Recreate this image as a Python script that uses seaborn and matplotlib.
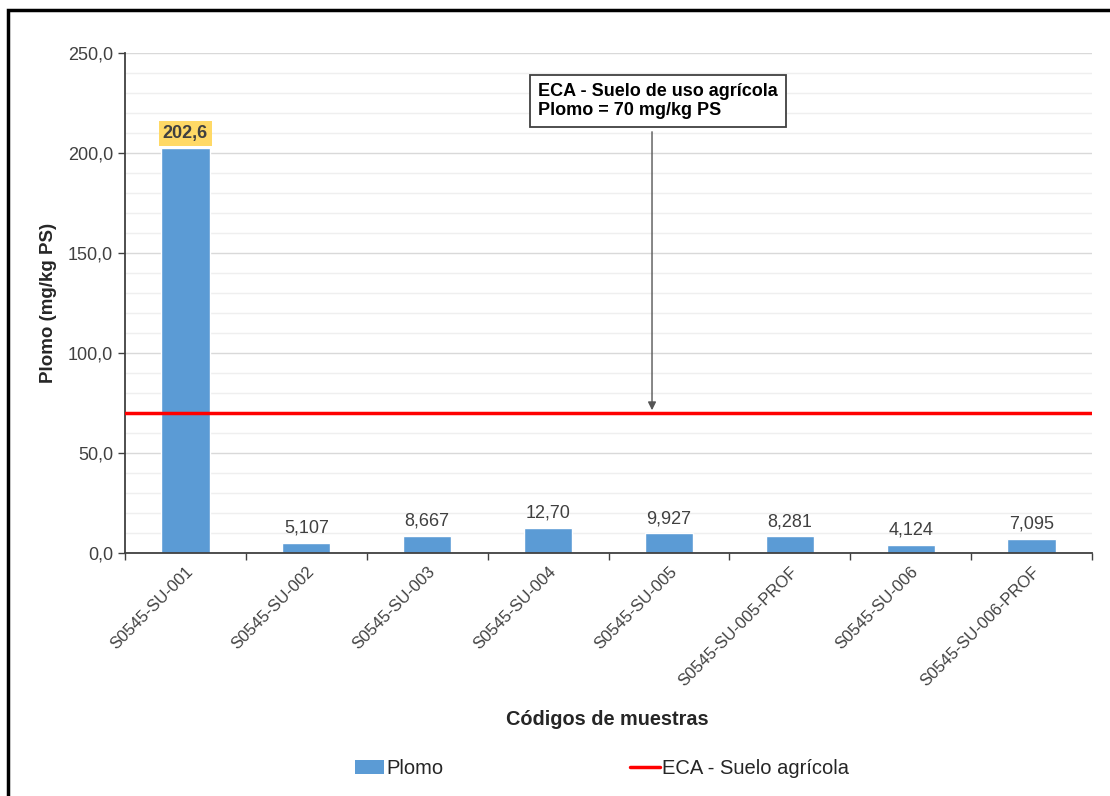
import numpy as np
import pandas as pd
import seaborn as sns
import matplotlib.pyplot as plt
from matplotlib.patches import Rectangle
from matplotlib.lines import Line2D
from matplotlib.patches import Patch
from matplotlib.ticker import MultipleLocator, FixedLocator

# DATA
muestras = ["S0545-SU-001", "S0545-SU-002", "S0545-SU-003", "S0545-SU-004",
            "S0545-SU-005", "S0545-SU-005-PROF", "S0545-SU-006", "S0545-SU-006-PROF"]
plomo = [202.6, 5.107, 8.667, 12.70, 9.927, 8.281, 4.124, 7.095]
etiquetas = ["202,6", "5,107", "8,667", "12,70", "9,927", "8,281", "4,124", "7,095"]
eca_limite = 70
y_ticks = [0, 50, 100, 150, 200, 250]
y_tick_labels = ["0,0", "50,0", "100,0", "150,0", "200,0", "250,0"]

df = pd.DataFrame({"muestra": muestras, "plomo": plomo})

sns.set_style("white")
plt.rcParams["font.family"] = ["Liberation Sans", "DejaVu Sans"]

fig = plt.figure(figsize=(11.1, 7.96), dpi=100)
ax = fig.add_axes([0.1126, 0.3053, 0.8712, 0.6281])

sns.barplot(data=df, x="muestra", y="plomo", color="#5B9BD5", width=0.4,
            saturation=1, ax=ax, zorder=3)

# grid
ax.set_ylim(0, 250)
ax.set_xlim(-0.5, len(muestras) - 0.5)
ax.yaxis.set_major_locator(FixedLocator(y_ticks))
ax.yaxis.set_minor_locator(MultipleLocator(10))
ax.set_yticklabels(y_tick_labels)
ax.grid(axis="y", which="major", color="#D9D9D9", lw=1, zorder=0)
ax.grid(axis="y", which="minor", color="#EFEFEF", lw=1, zorder=0)
ax.tick_params(axis="y", which="minor", length=0)
ax.tick_params(axis="y", which="major", length=5, width=1, color="#404040",
               labelsize=13, labelcolor="#404040", direction="out", left=True)

# x ticks: marks at boundaries, labels under bars
ax.xaxis.set_minor_locator(FixedLocator(np.arange(-0.5, len(muestras), 1.0)))
ax.tick_params(axis="x", which="minor", length=5, width=1, color="#404040",
               direction="out", bottom=True)
ax.tick_params(axis="x", which="major", length=0, labelsize=12, labelcolor="#404040", pad=8)
plt.setp(ax.get_xticklabels(), rotation=45, ha="right", rotation_mode="anchor")

for s in ["top", "right"]:
    ax.spines[s].set_visible(False)
for s in ["left", "bottom"]:
    ax.spines[s].set_color("#404040")
    ax.spines[s].set_linewidth(1.3)
ax.spines["bottom"].set_zorder(5)

# ECA line
ax.axhline(eca_limite, color="#FF0000", lw=2.5, zorder=4)

# value labels
for i, (v, t) in enumerate(zip(plomo, etiquetas)):
    if i == 0:
        ax.text(i, v + 3, t, ha="center", va="bottom", fontsize=13, fontweight="bold",
                color="#404040", zorder=6,
                bbox=dict(boxstyle="square,pad=0.22", fc="#FFD966", ec="none"))
    else:
        ax.text(i, v + 3, t, ha="center", va="bottom", fontsize=13, color="#404040", zorder=6)

# annotation
ax.annotate("", xy=(3.86, eca_limite), xytext=(3.86, 212),
            arrowprops=dict(arrowstyle="-|>", color="#555555", lw=1, mutation_scale=12),
            zorder=6)
ax.text(2.92, 226, "ECA - Suelo de uso agrícola\nPlomo = 70 mg/kg PS", ha="left", va="center",
        fontsize=13, fontweight="bold", color="#000000", linespacing=1.2, zorder=7,
        bbox=dict(boxstyle="square,pad=0.45", fc="white", ec="#404040", lw=1.3))

ax.set_ylabel("Plomo (mg/kg PS)", fontsize=13.5, fontweight="bold", labelpad=8)
ax.set_xlabel("")
fig.text(0.547, 0.0955, "Códigos de muestras", ha="center", va="center",
         fontsize=14.3, fontweight="bold")

handles = [Patch(facecolor="#5B9BD5", edgecolor="none"),
           Line2D([0], [0], color="#FF0000", lw=2.5)]
fig.legend(handles, ["Plomo", "ECA - Suelo agrícola"], loc="center",
           bbox_to_anchor=(0.542, 0.035), ncol=2, frameon=False, fontsize=14.5,
           columnspacing=9.3, handlelength=1.45, handletextpad=0.1, labelcolor="#262626")

# outer frame
fig.patches.append(Rectangle((8 / 1110, -0.05), 1.2, 1.05 - 10 / 796, transform=fig.transFigure,
                             fill=False, ec="black", lw=2.5))

fig.savefig("out.png", dpi=100)
